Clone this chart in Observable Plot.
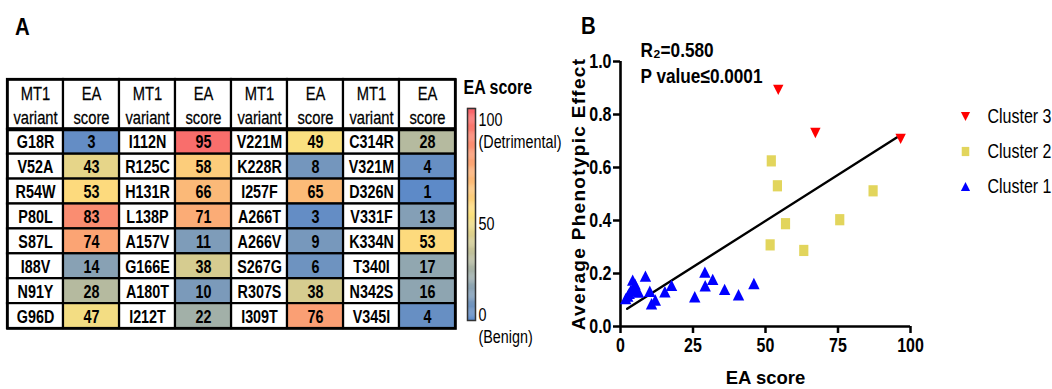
<!DOCTYPE html>
<html><head><meta charset="utf-8">
<script src="https://cdn.jsdelivr.net/npm/d3@7"></script>
<script src="https://cdn.jsdelivr.net/npm/@observablehq/plot@0.6"></script>
<style>
body{margin:0;background:#fff;}
#root{position:relative;width:1052px;height:389px;overflow:hidden;background:#fff;}
#root > *{position:absolute;}
.plabel{font:bold 24px "Liberation Sans",Arial,sans-serif;color:#000;transform:scaleX(0.85);transform-origin:left top;}
</style></head><body><div id="root"></div>
<script>
const SANS = '"Liberation Sans",Arial,"Helvetica",sans-serif';
const NARROW_FACTOR = 0.82;

// ---------- Panel A data ----------
const variantGroups = [
  ["G18R","V52A","R54W","P80L","S87L","I88V","N91Y","G96D"],
  ["I112N","R125C","H131R","L138P","A157V","G166E","A180T","I212T"],
  ["V221M","K228R","I257F","A266T","A266V","S267G","R307S","I309T"],
  ["C314R","V321M","D326N","V331F","K334N","T340I","N342S","V345I"]
];
const eaGroups = [
  [3,43,53,83,74,14,28,47],
  [95,58,66,71,11,38,10,22],
  [49,8,65,3,9,6,38,76],
  [28,4,1,13,53,17,16,4]
];
const headerLabels = ["MT1\nvariant","EA\nscore"];
const colorbarTicks = [
  {v:100, label:"100\n(Detrimental)"},
  {v:50, label:"50"},
  {v:0, label:"0\n(Benign)"}
];
const colorStops = [0,50,100];
const colorRange = ["#5a88c9","#fde27e","#f8616a"];

// ---------- Panel B data ----------
const cluster1EA = [1.8,2.5,3.0,3.5,4.2,4.8,5.0,5.5,6.2,8.6,10.1,10.7,12.0,15.3,17.6,25.6,29.1,29.2,31.8,35.9,40.7,46.0];
const cluster1Effect = [0.105,0.115,0.125,0.135,0.175,0.15,0.16,0.14,0.13,0.19,0.133,0.086,0.10,0.131,0.155,0.112,0.205,0.154,0.178,0.14,0.12,0.162];
const cluster2EA = [52.0,54.1,56.9,51.6,63.2,75.6,87.1];
const cluster2Effect = [0.625,0.531,0.388,0.308,0.287,0.403,0.512];
const cluster3EA = [54.4,67.2,96.6];
const cluster3Effect = [0.893,0.73,0.708];
const fitEA = [2.3,95.4];
const fitEffect = [0.067,0.714];
const xTicks = [0,25,50,75,100];
const yTicks = [0,0.2,0.4,0.6,0.8,1.0];
const clusterNames = ["Cluster 3","Cluster 2","Cluster 1"];
const clusterColors = {"Cluster 1":"#0000ff","Cluster 2":"#e2d55c","Cluster 3":"#ff0000"};

// ---------- custom symbols ----------
const triUp = {draw(ctx, size){const r=Math.sqrt(size/Math.PI);ctx.moveTo(0,-r);ctx.lineTo(r,r);ctx.lineTo(-r,r);ctx.closePath();}};
const triDown = {draw(ctx, size){const r=Math.sqrt(size/Math.PI);ctx.moveTo(0,r);ctx.lineTo(r,-r);ctx.lineTo(-r,-r);ctx.closePath();}};
const rectSym = {draw(ctx, size){const r=Math.sqrt(size/Math.PI);const w=r*0.82;ctx.moveTo(-w,-r);ctx.lineTo(w,-r);ctx.lineTo(w,r);ctx.lineTo(-w,r);ctx.closePath();}};
const clusterSymbols = {"Cluster 1":triUp,"Cluster 2":rectSym,"Cluster 3":triDown};

const root = document.getElementById("root");
function place(el, left, top){el.style.position="absolute";el.style.left=left+"px";el.style.top=top+"px";el.style.overflow="visible";root.appendChild(el);}
// narrow (Arial-Narrow-like) look: compress each text about its own anchor
function condense(svg, skip = []){
  svg.querySelectorAll("text").forEach(t => {
    if (skip.includes(t.textContent)) return;
    const tr = t.getAttribute("transform") || "";
    t.setAttribute("transform", (tr + " scale(" + NARROW_FACTOR + ",1)").trim());
  });
}

const colorScale = {type:"linear", domain:colorStops, range:colorRange, interpolate:"rgb"};

// ---------- Panel A table ----------
const cells = [];
variantGroups.forEach((g, gi) => g.forEach((v, r) => {
  cells.push({col:2*gi, row:r, text:v, kind:"variant"});
  cells.push({col:2*gi+1, row:r, text:String(eaGroups[gi][r]), value:eaGroups[gi][r], kind:"ea"});
}));
const headers = d3.range(8).map(c => ({col:c, text:headerLabels[c % 2]}));

const tableA = Plot.plot({
  width:460, height:389, marginLeft:7, marginRight:5, marginTop:79, marginBottom:61,
  x:{type:"band", domain:d3.range(8), padding:0, axis:null},
  y:{domain:[-2,8], reverse:true, axis:null},
  color:colorScale,
  style:{fontFamily:SANS, background:"transparent", overflow:"visible"},
  marks:[
    Plot.barY(cells.filter(d=>d.kind==="variant"), {x:"col", y1:"row", y2:d=>d.row+1, fill:"white", stroke:"black", strokeWidth:2.2}),
    Plot.barY(cells.filter(d=>d.kind==="ea"), {x:"col", y1:"row", y2:d=>d.row+1, fill:"value", stroke:"black", strokeWidth:2.2}),
    Plot.barY(headers, {x:"col", y1:-2, y2:0, fill:"white", stroke:"black", strokeWidth:2.2}),
    Plot.ruleY([0], {stroke:"black", strokeWidth:4}),
    Plot.frame({stroke:"black", strokeWidth:2.6}),
    Plot.text(cells, {x:"col", y:d=>d.row+0.5, dy:1, text:"text", fontWeight:"bold", fontSize:17.5, fill:"black"}),
    Plot.text(headers, {x:"col", y:-1, text:"text", fontSize:18, lineHeight:1.35, fill:"black", fontWeight:"500", stroke:"black", strokeWidth:0.25})
  ]
});
condense(tableA);
place(tableA, 0, 0);

// ---------- colour bar ----------
const gradSteps = d3.range(0, 100, 0.5);
const cbar = Plot.plot({
  width:120, height:389, marginLeft:12, marginRight:100, marginTop:108, marginBottom:69,
  x:{domain:[0,1], axis:null},
  y:{domain:[0,100], axis:null},
  color:colorScale,
  style:{fontFamily:SANS, background:"transparent", overflow:"visible"},
  marks:[
    Plot.rect(gradSteps, {x1:0, x2:1, y1:d=>d, y2:d=>d+0.6, fill:d=>d}),
    Plot.frame({stroke:"#333", strokeWidth:1.5}),
    Plot.text(colorbarTicks.filter(d=>d.v===100), {y:"v", text:"label", frameAnchor:"right", textAnchor:"start", dx:3, lineAnchor:"top", dy:1, lineHeight:1.3, fontSize:17.5, fill:"black"}),
    Plot.text(colorbarTicks.filter(d=>d.v===50), {y:"v", text:"label", frameAnchor:"right", textAnchor:"start", dx:3, dy:10, fontSize:17.5, fill:"black"}),
    Plot.text(colorbarTicks.filter(d=>d.v===0), {y:"v", text:"label", frameAnchor:"right", textAnchor:"start", dx:3, lineAnchor:"top", dy:-16, lineHeight:1.3, fontSize:17.5, fill:"black"}),
    Plot.text(["EA score"], {frameAnchor:"top-left", lineAnchor:"middle", textAnchor:"start", dx:-4, dy:-21, fontWeight:"bold", fontSize:19.5, fill:"black"})
  ]
});
condense(cbar);
place(cbar, 455, 0);

// ---------- Panel B scatter ----------
const c1 = cluster1EA.map((x,i)=>({x, y:cluster1Effect[i]}));
const c2 = cluster2EA.map((x,i)=>({x, y:cluster2Effect[i]}));
const c3 = cluster3EA.map((x,i)=>({x, y:cluster3Effect[i]}));
const fit = fitEA.map((x,i)=>({x, y:fitEffect[i]}));

const plotB = Plot.plot({
  width:380, height:389, marginLeft:60, marginRight:30, marginTop:61, marginBottom:63,
  x:{domain:[0,100]}, y:{domain:[0,1]},
  style:{fontFamily:SANS, background:"transparent", overflow:"visible", color:"black"},
  marks:[
    Plot.axisX({ticks:xTicks, tickSize:7, tickPadding:5, strokeWidth:2.5, fontSize:19.5, fontWeight:"bold", label:null, fill:"black"}),
    Plot.axisY({ticks:yTicks, tickSize:7, tickPadding:2, strokeWidth:2.5, fontSize:19.5, fontWeight:"bold", label:null, tickFormat:d=>d.toFixed(1), fill:"black"}),
    Plot.ruleY([0], {strokeWidth:2.6, stroke:"black"}),
    Plot.ruleX([0], {strokeWidth:2.6, stroke:"black"}),
    Plot.line(fit, {x:"x", y:"y", stroke:"black", strokeWidth:2.4}),
    Plot.dot(c1, {x:"x", y:"y", symbol:triUp, r:5.7, fill:clusterColors["Cluster 1"], stroke:null}),
    Plot.dot(c2, {x:"x", y:"y", symbol:rectSym, r:5.6, fill:clusterColors["Cluster 2"], stroke:null}),
    Plot.dot(c3, {x:"x", y:"y", symbol:triDown, r:5.2, fill:clusterColors["Cluster 3"], stroke:null}),
    Plot.text(["EA score"], {frameAnchor:"bottom", lineAnchor:"middle", dy:52, fontSize:18.5, fontWeight:"bold", fill:"black"}),
    Plot.text(["Average Phenotypic Effect"], {frameAnchor:"left", textAnchor:"middle", lineAnchor:"middle", rotate:-90, dx:-42, fontSize:19, fontWeight:"bold", fill:"black"}),
    Plot.text(["R₂=0.580"], {frameAnchor:"top-left", textAnchor:"start", lineAnchor:"middle", dx:20, dy:-11, fontSize:21, fontWeight:"bold", fill:"black"}),
    Plot.text(["P value≤0.0001"], {frameAnchor:"top-left", textAnchor:"start", lineAnchor:"middle", dx:20, dy:15, fontSize:21, fontWeight:"bold", fill:"black"})
  ]
});
condense(plotB, ["EA score", "Average Phenotypic Effect"]);
plotB.querySelectorAll("text").forEach(t => { if (t.textContent === "Average Phenotypic Effect") t.style.letterSpacing = "1.3px"; });
place(plotB, 560, 0);

// ---------- legend ----------
const legendItems = clusterNames.map(name => ({name}));
const legend = Plot.plot({
  width:112, height:389, marginLeft:0, marginRight:0, marginTop:0, marginBottom:0,
  y:{type:"point", domain:clusterNames, range:[115,186], padding:0, axis:null},
  style:{fontFamily:SANS, background:"transparent", overflow:"visible"},
  marks:[
    ...legendItems.map(d => Plot.dot([d], {y:"name", frameAnchor:"left", dx:25, symbol:clusterSymbols[d.name], r:4.6, fill:clusterColors[d.name], stroke:null})),
    Plot.text(legendItems, {y:"name", text:"name", frameAnchor:"left", textAnchor:"start", dx:47, fontSize:19.5, fill:"black"})
  ]
});
condense(legend);
place(legend, 940, 0);

// panel letters
const la = document.createElement("div"); la.className="plabel"; la.textContent="A"; place(la, 15, 13);
const lb = document.createElement("div"); lb.className="plabel"; lb.textContent="B"; place(lb, 581, 12);
</script></body></html>
